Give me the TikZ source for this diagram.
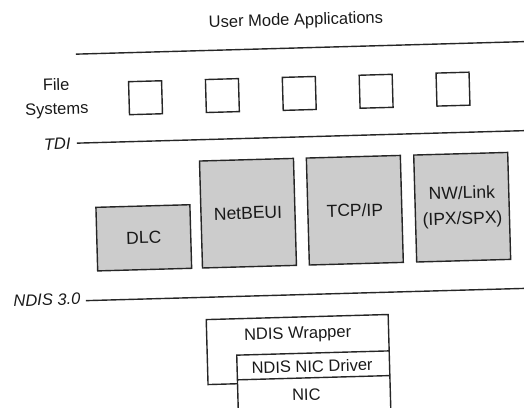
\documentclass[tikz,border=0pt]{standalone}
\usepackage{fontspec}
\setmainfont{Liberation Sans}
\begin{document}
\begin{tikzpicture}[x=1pt,y=-1pt,
  lbl/.style={font=\fontsize{16.5}{20}\selectfont, inner sep=0pt, text=black!90},
  ital/.style={font=\fontsize{16.5}{20}\selectfont\itshape, inner sep=0pt, text=black!90},
  edge/.style={draw=black!85, line width=1.4pt},
  fsbox/.style={draw=black!85, line width=1.4pt, minimum width=33pt, minimum height=33pt, inner sep=0pt},
  proto/.style={draw=black!85, line width=1.4pt, fill=black!20, inner sep=0pt, minimum width=94pt,
     font=\fontsize{17.5}{25.5}\selectfont, align=center, text=black!90}]
\useasboundingbox (0,0) rectangle (524,407);
\begin{scope}[rotate around={1.6:(262,203)}, transform shape]
  % title and top line
  \node[lbl] (uma) at (301,22) {User Mode Applications};
  \coordinate (topL) at (80,49);
  \coordinate (topR) at (560,49);
  \draw[edge] (topL) -- (topR);
  % file systems
  \node[lbl, align=center, font=\fontsize{16.5}{24}\selectfont] (fs) at (59.5,92.5) {File\\Systems};
  \node[fsbox] (fs1) at (148.5,94.5) {};
  \node[fsbox] (fs2) at (225.4,94.5) {};
  \node[fsbox] (fs3) at (302.3,94.5) {};
  \node[fsbox] (fs4) at (379.2,94.5) {};
  \node[fsbox] (fs5) at (456.1,94.5) {};
  % TDI
  \node[ital] (tdi) at (59,138.3) {TDI};
  \coordinate (tdiL) at (78.7,138);
  \coordinate (tdiR) at (560,138);
  \draw[edge] (tdiL) -- (tdiR);
  % protocols
  \node[proto, minimum height=63.6pt] (dlc) at (142.85,234.5) {DLC};
  \node[proto, minimum height=107pt] (netbeui) at (247.7,212.8) {NetBEUI};
  \node[proto, minimum height=107pt] (tcpip) at (354.6,212.8) {TCP/IP};
  \node[proto, minimum height=107pt] (nwlink) at (462,212.8) {NW/Link\\(IPX/SPX)};
  % NDIS 3.0
  \node[ital] (ndis) at (44.3,293.7) {NDIS 3.0};
  \coordinate (ndisL) at (83.3,295.7);
  \coordinate (ndisR) at (560,295.7);
  \draw[edge] (ndisL) -- (ndisR);
  % wrapper
  \coordinate (w1) at (232.5,383);
  \coordinate (w2) at (203,383);
  \coordinate (w3) at (203,318);
  \coordinate (w4) at (385,318);
  \coordinate (w5) at (385,430);
  \draw[edge] (w1) -- (w2) -- (w3) -- (w4) -- (w5);
  \node[lbl] (wrap) at (294,335.5) {NDIS Wrapper};
  % driver and NIC
  \coordinate (d1) at (385,354.4);
  \coordinate (d2) at (232.5,354.4);
  \coordinate (d3) at (232.5,430);
  \coordinate (d4) at (232.5,379.1);
  \coordinate (d5) at (385,379.1);
  \draw[edge] (d1) -- (d2) -- (d3);
  \draw[edge] (d4) -- (d5);
  \node[lbl] (drv) at (307.5,367.5) {NDIS NIC Driver};
  \node[lbl] (nic) at (301,396) {NIC};
\end{scope}
\end{tikzpicture}
\end{document}
